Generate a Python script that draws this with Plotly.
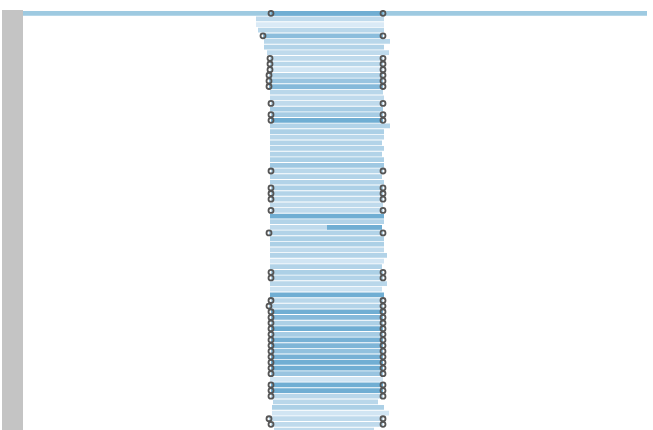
import plotly.graph_objects as go

# Row index (top to bottom)
rows = list(range(75))

# Start / end of each row's span (axis units), shade intensity (0 light .. 1 dark), marker flag
starts = [248, 233, 233, 235, 240, 241, 241, 244, 247, 247, 247, 246, 246, 246, 247, 247,
          248, 247, 248, 248, 247, 247, 247, 247, 247, 247, 247, 247, 248, 247, 247, 248,
          248, 248, 247, 248, 247, 247, 247, 246, 247, 247, 247, 247, 247, 247, 248, 248,
          247, 247, 247, 248, 246, 248, 248, 248, 248, 248, 248, 248, 248, 248, 248, 248,
          248, 247, 248, 248, 248, 250, 249, 249, 246, 248, 251]
ends = [360, 361, 361, 361, 360, 367, 361, 366, 360, 360, 360, 360, 360, 360, 360, 361,
        360, 360, 360, 360, 367, 361, 361, 359, 361, 359, 361, 361, 360, 359, 361, 360,
        360, 360, 360, 360, 361, 361, 359, 360, 361, 361, 361, 364, 361, 359, 360, 360,
        364, 359, 361, 360, 360, 360, 360, 360, 360, 360, 360, 360, 360, 360, 360, 360,
        360, 360, 360, 360, 360, 355, 361, 366, 360, 360, 351]
shade = [0.90, 0.30, 0.08, 0.35, 0.70, 0.35, 0.40, 0.30, 0.30, 0.35, 0.15, 0.40, 0.60, 0.75, 0.35, 0.30,
         0.30, 0.50, 0.50, 0.90, 0.40, 0.45, 0.35, 0.40, 0.40, 0.40, 0.45, 0.55, 0.35, 0.40, 0.40, 0.45,
         0.40, 0.35, 0.30, 0.30, 0.90, 0.40, 0.30, 0.40, 0.45, 0.45, 0.30, 0.40, 0.15, 0.40, 0.45, 0.40,
         0.35, 0.20, 0.90, 0.35, 0.40, 0.90, 0.75, 0.45, 0.90, 0.50, 0.85, 0.80, 0.65, 0.85, 0.90, 0.90,
         0.60, 0.15, 0.90, 0.90, 0.35, 0.35, 0.45, 0.15, 0.30, 0.30, 0.30]
marked = [1, 0, 0, 0, 1, 0, 0, 0, 1, 1, 1, 1, 1, 1, 0, 0,
          1, 0, 1, 1, 0, 0, 0, 0, 0, 0, 0, 0, 1, 0, 0, 1,
          1, 1, 0, 1, 0, 0, 0, 1, 0, 0, 0, 0, 0, 0, 1, 1,
          0, 0, 0, 1, 1, 1, 1, 1, 1, 1, 1, 1, 1, 1, 1, 1,
          1, 0, 1, 1, 1, 0, 0, 0, 1, 1, 0]

# Overall span (row 0) and a split highlight segment (row 38)
overall_row = [0]
overall_start = [0]
overall_end = [624]
split_row = [38]
split_start = [304]
split_end = [359]
split_shade = [0.90]

AXIS_MAX = 624
blues = [[0, "#e4f0f9"], [0.5, "#a6cce4"], [1, "#63a6cf"]]

fig = go.Figure()

fig.add_trace(go.Bar(
    orientation="h", y=overall_row,
    x=[e - s for s, e in zip(overall_start, overall_end)], base=overall_start,
    marker=dict(color="#9ecae1", line=dict(width=0)), width=0.84, showlegend=False,
))

fig.add_trace(go.Bar(
    orientation="h", y=rows,
    x=[e - s for s, e in zip(starts, ends)], base=starts,
    marker=dict(color=shade, colorscale=blues, cmin=0, cmax=1, line=dict(width=0)),
    width=0.84, showlegend=False,
))

fig.add_trace(go.Bar(
    orientation="h", y=split_row,
    x=[e - s for s, e in zip(split_start, split_end)], base=split_start,
    marker=dict(color=split_shade, colorscale=blues, cmin=0, cmax=1, line=dict(width=0)),
    width=0.84, showlegend=False,
))

mk_rows = [r for r, m in zip(rows, marked) if m]
mk_start = [s for s, m in zip(starts, marked) if m]
mk_end = [e for e, m in zip(ends, marked) if m]
fig.add_trace(go.Scatter(
    x=mk_start + mk_end, y=mk_rows + mk_rows, mode="markers",
    marker=dict(symbol="circle-open", size=5, color="#555555", line=dict(width=1.8, color="#555555")),
    showlegend=False, hoverinfo="skip",
))

fig.add_shape(type="rect", xref="paper", yref="paper",
              x0=-21 / 624, x1=0, y0=0, y1=1,
              fillcolor="#c4c4c4", line=dict(width=0))

fig.update_layout(
    width=653, height=430,
    margin=dict(l=23, r=6, t=10, b=0),
    paper_bgcolor="white", plot_bgcolor="white",
    barmode="overlay",
    xaxis=dict(range=[0, AXIS_MAX], visible=False, fixedrange=True),
    yaxis=dict(range=[74.0, -0.59], visible=False, fixedrange=True),
    showlegend=False,
)

fig.write_html("out.html", config={"displayModeBar": False},
               post_script="document.body.style.margin='0';")
